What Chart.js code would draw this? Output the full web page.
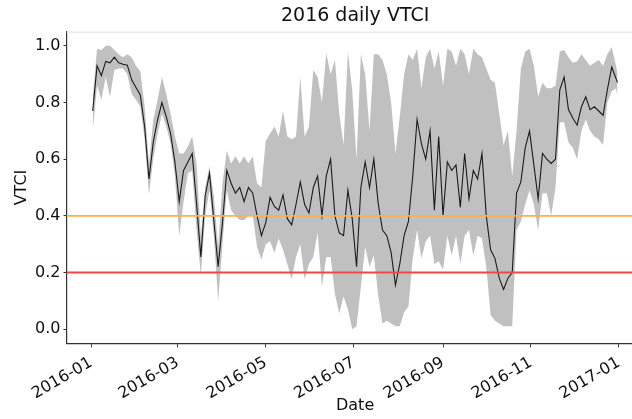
<!DOCTYPE html>
<html>
<head>
<meta charset="utf-8">
<title>2016 daily VTCI</title>
<script src="https://cdn.jsdelivr.net/npm/chart.js@4.4.1/dist/chart.umd.min.js"></script>
<style>
  html, body { margin: 0; padding: 0; background: #fff; overflow: hidden; }
  #wrap { width: 660px; height: 419px; }
</style>
</head>
<body>
<div id="wrap"><canvas id="chart"></canvas></div>
<script>
// day of year (2016-01-01 = 0), sampled every 3 days
const dayOfYear = [1,4,7,10,13,16,19,22,25,28,31,34,37,40,43,46,49,52,55,58,
  61,64,67,70,73,76,79,82,85,88,91,94,97,100,103,106,109,112,115,118,
  121,124,127,130,133,136,139,142,145,148,151,154,157,160,163,166,169,172,175,178,
  181,184,187,190,193,196,199,202,205,208,211,214,217,220,223,226,229,232,235,238,
  241,244,247,250,253,256,259,262,265,268,271,274,277,280,283,286,289,292,295,298,
  301,304,307,310,313,316,319,322,325,328,331,334,337,340,343,346,349,352,355,358,
  361,364,365];

const vtciMean = [.77,.93,.895,.945,.94,.96,.94,.935,.932,.88,
  .853,.827,.715,.53,.66,.74,.80,.75,.69,.59,
  .45,.56,.59,.62,.445,.255,.47,.55,.385,.22,
  .375,.56,.515,.48,.50,.45,.50,.48,.40,.33,
  .375,.465,.433,.42,.474,.39,.368,.44,.52,.44,
  .41,.50,.54,.40,.54,.60,.40,.34,.33,.49,
  .39,.22,.50,.59,.50,.60,.445,.35,.33,.27,
  .155,.23,.33,.38,.54,.74,.655,.60,.70,.42,
  .68,.40,.59,.56,.58,.43,.62,.46,.56,.53,
  .62,.40,.28,.25,.18,.14,.18,.20,.48,.52,
  .64,.70,.58,.46,.62,.60,.585,.60,.845,.89,
  .775,.745,.72,.785,.82,.775,.785,.77,.755,.845,
  .925,.885,.87];

const vtciLow = [.70,.86,.81,.89,.82,.915,.92,.92,.90,.83,
  .81,.785,.67,.475,.60,.69,.76,.715,.655,.54,
  .33,.45,.55,.56,.35,.19,.40,.49,.33,.10,
  .30,.49,.42,.40,.385,.385,.40,.40,.29,.245,
  .30,.31,.27,.32,.28,.23,.175,.255,.30,.175,
  .23,.255,.34,.15,.255,.255,.125,.055,.115,.07,
  .0,.01,.15,.29,.22,.26,.12,.02,.03,.02,
  .01,.01,.06,.08,.25,.35,.25,.31,.33,.23,
  .24,.21,.33,.26,.33,.23,.33,.35,.26,.33,
  .32,.22,.05,.03,.02,.01,.01,.01,.35,.38,
  .44,.49,.44,.35,.48,.48,.40,.50,.73,.73,
  .66,.64,.60,.70,.74,.70,.68,.67,.65,.80,
  .84,.85,.82];

const vtciHigh = [.82,.99,.985,1.0,1.0,.985,.97,.96,.97,.96,
  .93,.91,.785,.585,.74,.81,.89,.83,.76,.68,
  .62,.62,.645,.68,.585,.33,.50,.575,.47,.29,
  .515,.63,.585,.61,.585,.61,.585,.61,.515,.50,
  .665,.69,.715,.68,.77,.68,.67,.68,.89,.68,
  .715,.915,.89,.80,.975,.90,.95,.76,.65,.98,
  .845,.60,.97,.90,.70,.97,.97,.95,.90,.80,
  .62,.75,.90,.97,.95,.99,.85,.96,.99,.92,
  .98,.86,.99,.98,.93,.99,.97,.90,.99,.97,
  .96,.92,.88,.87,.76,.65,.70,.54,.70,.92,
  .98,.99,.93,.82,.87,.85,.85,.86,.98,.985,
  .96,.94,.945,.97,.95,.93,.94,.95,.93,.97,
  .995,.93,.90];

const tickDays = [0, 60, 121, 182, 244, 305, 366];
const tickLabels = ['2016-01', '2016-03', '2016-05', '2016-07', '2016-09', '2016-11', '2017-01'];
const yTicks = [0.0, 0.2, 0.4, 0.6, 0.8, 1.0];
const upperThreshold = 0.4;
const lowerThreshold = 0.2;

const xMin = -17.2, xMax = 383.2;
const font = { family: 'DejaVu Sans', size: 16 };
const textColor = '#111';
const spine = '#333';

const toPoints = vals => dayOfYear.map((d, i) => ({ x: d, y: vals[i] }));
const hLine = v => [{ x: xMin, y: v }, { x: xMax, y: v }];

// faint frame line along the top of the plot
const topFrame = {
    id: 'topFrame',
    beforeDatasetsDraw(chart) {
        const { ctx, chartArea: a } = chart;
        ctx.save();
        ctx.strokeStyle = '#e2e2e2';
        ctx.lineWidth = 1;
        ctx.beginPath();
        ctx.moveTo(a.left, a.top + 0.5);
        ctx.lineTo(chart.width, a.top + 0.5);
        ctx.stroke();
        ctx.restore();
    }
};

const ctx = document.querySelector('#chart').getContext('2d');
new Chart(ctx, {
    type: 'line',
    data: {
        datasets: [
            { data: toPoints(vtciLow), borderWidth: 0, pointRadius: 0, fill: false, order: 4 },
            { data: toPoints(vtciHigh), borderWidth: 0, pointRadius: 0, fill: '-1',
              backgroundColor: '#c0c0c0', order: 3 },
            { data: toPoints(vtciMean), borderColor: '#1a1a1a', borderWidth: 1.1, pointRadius: 0,
              fill: false, order: 2 },
            { data: hLine(upperThreshold), borderColor: '#fbb440', borderWidth: 1.8, pointRadius: 0,
              fill: false, order: 1 },
            { data: hLine(lowerThreshold), borderColor: '#f04848', borderWidth: 1.8, pointRadius: 0,
              fill: false, order: 1 }
        ]
    },
    options: {
        responsive: true,
        maintainAspectRatio: false,
        animation: false,
        elements: { line: { tension: 0 } },
        layout: { padding: { left: 0, right: 16.3, top: 0, bottom: 0 } },
        plugins: {
            legend: { display: false },
            tooltip: { enabled: false },
            title: {
                display: true,
                text: '2016 daily VTCI',
                fullSize: false,
                color: textColor,
                font: { family: 'DejaVu Sans', size: 19, weight: 'normal' },
                padding: { top: 4.6, bottom: 4.3 }
            }
        },
        scales: {
            x: {
                type: 'linear',
                min: xMin,
                max: xMax,
                afterBuildTicks: s => { s.ticks = tickDays.map(v => ({ value: v })); },
                afterFit: s => { s.height = 75.7; },
                ticks: {
                    autoSkip: false,
                    minRotation: 30,
                    maxRotation: 30,
                    padding: 6,
                    color: textColor,
                    font: font,
                    callback: (v, i) => tickLabels[i]
                },
                grid: { display: true, drawOnChartArea: false, drawTicks: true, tickLength: 4, color: spine },
                border: { display: true, color: spine, width: 1.2 },
                title: { display: true, text: 'Date', color: textColor, font: font, padding: { top: 0, bottom: 3.5 } }
            },
            y: {
                min: -0.05,
                max: 1.05,
                afterBuildTicks: s => { s.ticks = yTicks.map(v => ({ value: v })); },
                afterFit: s => { s.width = 66.5; },
                ticks: {
                    padding: 3,
                    color: textColor,
                    font: font,
                    callback: v => v.toFixed(1)
                },
                grid: { display: true, drawOnChartArea: false, drawTicks: true, tickLength: 3, color: spine },
                border: { display: true, color: spine, width: 1.2 },
                title: { display: true, text: 'VTCI', color: textColor, font: font, padding: { top: 12.4, bottom: 0 } }
            }
        }
    },
    plugins: [topFrame]
});
</script>
</body>
</html>
